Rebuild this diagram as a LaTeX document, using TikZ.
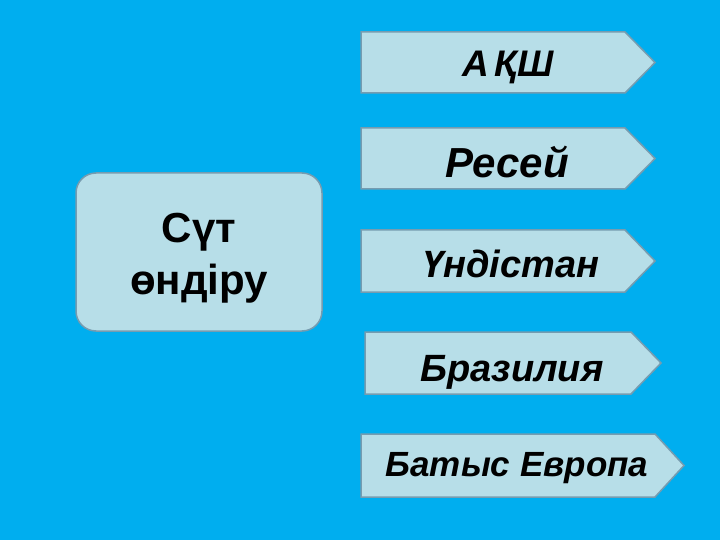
\documentclass[tikz,border=0pt]{standalone}
\usepackage{fontspec}
\setmainfont{Liberation Sans}
\usepackage{tikz}

\definecolor{sky}{RGB}{0,174,239}
\definecolor{pale}{RGB}{183,222,232}
\definecolor{rim}{RGB}{118,156,176}

\begin{document}
\begin{tikzpicture}[x=1pt, y=-1pt,
    tag/.style={fill=pale, draw=rim, line width=1.5pt, line join=miter},
    country/.style={anchor=base, font=\bfseries\itshape}]
  \fill[sky] (0, 0) rectangle (720, 540);
  \useasboundingbox (0, 0) rectangle (720, 540);

  % main box
  \node[fill=pale, draw=rim, line width=1.5pt, rounded corners=20pt,
    minimum width=246pt, minimum height=158pt] (milk) at (199, 252) {};
  \node[align=center, font=\bfseries\fontsize{42}{52}\selectfont] (milktext)
    at (199, 258) {Сүт\\өндіру};

  % countries
  \draw[tag] (361, 32) -- (625, 32) -- (655, 62.5) -- (625, 93) -- (361, 93) -- cycle;
  \node[country, font=\bfseries\itshape\fontsize{37}{40}\selectfont] (usa) at (508, 77) {А\,ҚШ};

  \draw[tag] (361, 128) -- (625, 128) -- (655, 158.5) -- (625, 189) -- (361, 189) -- cycle;
  \node[country, font=\bfseries\itshape\fontsize{42}{46}\selectfont] (russia) at (507, 178) {Ресей};

  \draw[tag] (361, 230) -- (625, 230) -- (655, 261) -- (625, 292) -- (361, 292) -- cycle;
  \node[country, font=\bfseries\itshape\fontsize{38}{40}\selectfont] (india) at (511, 277) {Үндістан};

  \draw[tag] (365, 332) -- (631, 332) -- (661, 363) -- (631, 394) -- (365, 394) -- cycle;
  \node[country, font=\bfseries\itshape\fontsize{38}{40}\selectfont] (brazil) at (512, 381) {Бразилия};

  \draw[tag] (361, 434) -- (655, 434) -- (684, 465.5) -- (655, 497) -- (361, 497) -- cycle;
  \node[country, font=\bfseries\itshape\fontsize{35}{38}\selectfont] (europe) at (517, 476) {Батыс Европа};
\end{tikzpicture}
\end{document}
